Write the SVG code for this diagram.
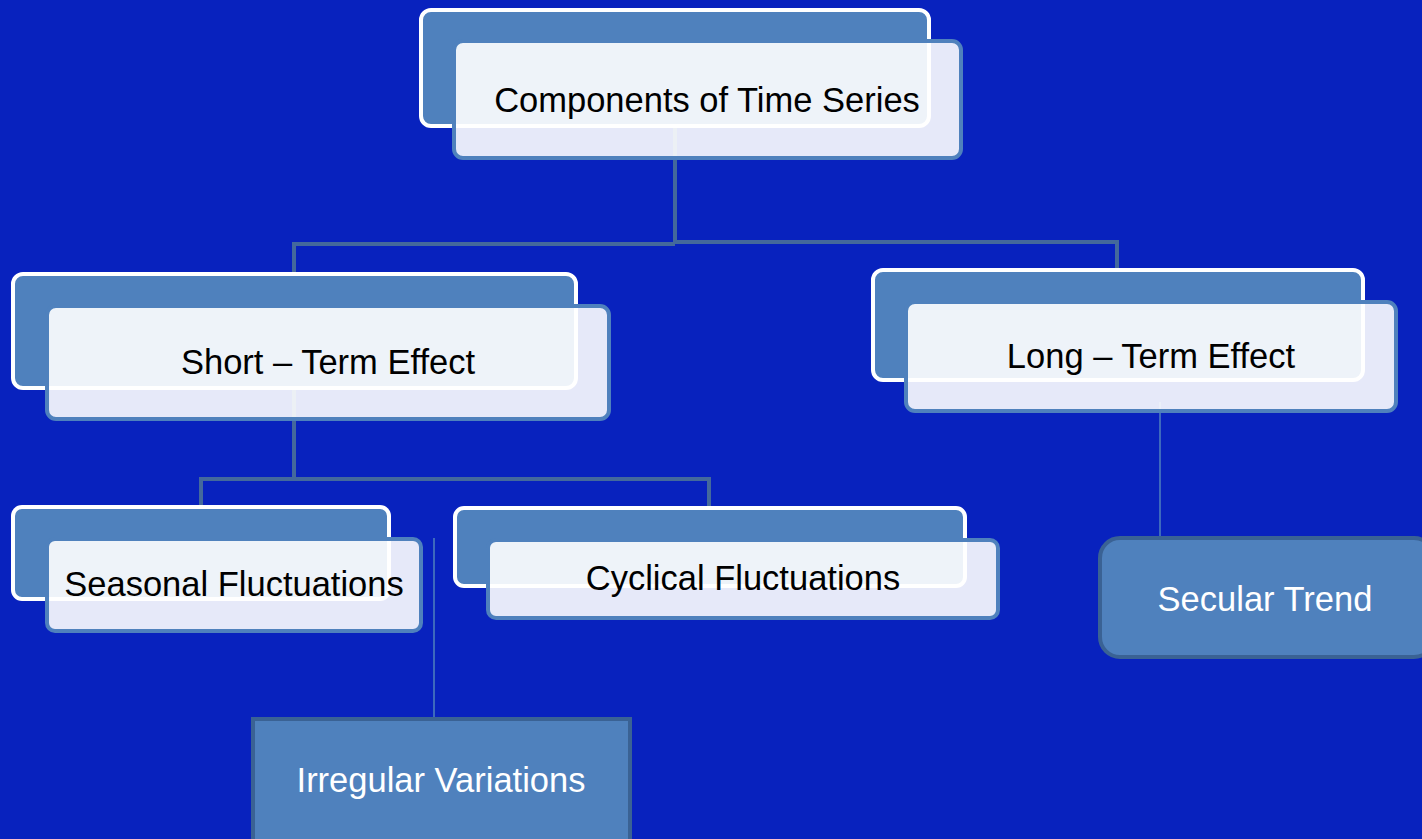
<svg xmlns="http://www.w3.org/2000/svg" width="1422" height="839" viewBox="0 0 1422 839">
<style>
.back{fill:#4F81BD;stroke:#FFFFFF;stroke-width:4}
.front{fill:#FFFFFF;fill-opacity:0.9;stroke:#4F81BD;stroke-width:4}
.solid{fill:#4F81BD;stroke:#3A6294;stroke-width:4}
.t{font-family:"Liberation Sans",Arial,sans-serif;font-size:34.5px;text-anchor:middle}
.dark{fill:#000000}
.light{fill:#FFFFFF}
.conn{fill:none;stroke:#44699C;stroke-width:4}
.thin{fill:none;stroke:#4F81BD;stroke-width:1.5}
</style>
<rect x="0" y="0" width="1422" height="839" fill="#0822BE"/>
<g id="connectors">
<path class="conn" d="M675,128 V244 M294,272 V244 H675 M1117,270 V242 H675"/>
<path class="conn" d="M294,390 V479 M201,507 V479 H709 V508"/>
<path class="thin" d="M1160,402 V537 M434,538 V718"/>
</g>
<g id="node-components">
<rect class="back" x="421" y="10" width="508" height="116" rx="10"/>
<rect class="front" x="454" y="41" width="507" height="117" rx="9"/>
<text class="t dark" x="707" y="112">Components of Time Series</text>
</g>
<g id="node-short">
<rect class="back" x="13" y="274" width="563" height="114" rx="10"/>
<rect class="front" x="47" y="306" width="562" height="113" rx="9"/>
<text class="t dark" x="328" y="374">Short – Term Effect</text>
</g>
<g id="node-long">
<rect class="back" x="873" y="270" width="490" height="110" rx="10"/>
<rect class="front" x="906" y="302" width="490" height="109" rx="9"/>
<text class="t dark" x="1151" y="368">Long – Term Effect</text>
</g>
<g id="node-seasonal">
<rect class="back" x="13" y="507" width="376" height="92" rx="9"/>
<rect class="front" x="47" y="539" width="374" height="92" rx="8"/>
<text class="t dark" x="234" y="596">Seasonal Fluctuations</text>
</g>
<g id="node-cyclical">
<rect class="back" x="455" y="508" width="510" height="78" rx="9"/>
<rect class="front" x="488" y="540" width="510" height="78" rx="8"/>
<text class="t dark" x="743" y="590">Cyclical Fluctuations</text>
</g>
<g id="node-secular">
<rect class="solid" x="1100" y="538" width="334" height="119" rx="20"/>
<text class="t light" x="1265" y="611">Secular Trend</text>
</g>
<g id="node-irregular">
<rect class="solid" x="253" y="719" width="377" height="130"/>
<text class="t light" x="441" y="792">Irregular Variations</text>
</g>
</svg>
